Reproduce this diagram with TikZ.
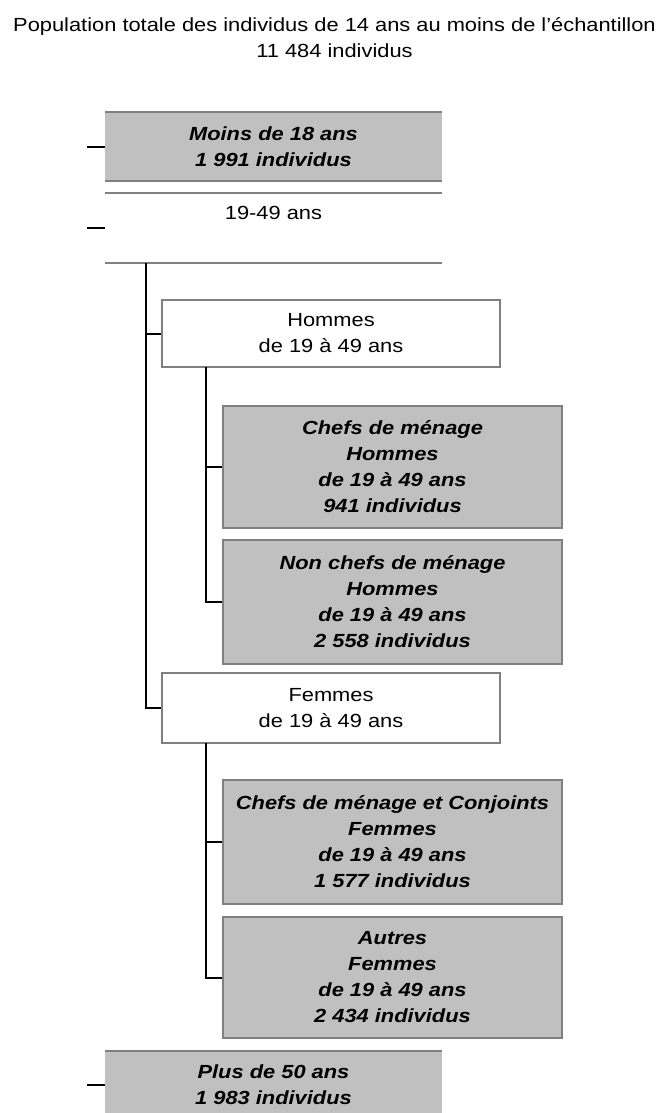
\documentclass[tikz,border=0pt]{standalone}
\usepackage{fontspec}
\setmainfont[FakeStretch=1.15]{Liberation Sans}
\definecolor{boxgray}{HTML}{C0C0C0}
\definecolor{edgegray}{HTML}{808080}
\tikzset{
  txt/.style={font=\fontsize{19}{26}\selectfont, align=center, inner sep=0pt},
  lvlbox/.style={txt, fill=boxgray},
  plainbox/.style={txt},
  subbox/.style={txt, draw=edgegray, line width=2pt},
  leafbox/.style={txt, draw=edgegray, line width=2pt, fill=boxgray},
  edge/.style={line width=2pt, edgegray},
  conn/.style={line width=2pt, black},
}
\begin{document}
\begin{tikzpicture}[x=1pt,y=-1pt]
\useasboundingbox[fill=white] (0,0) rectangle (669,1113);
% title
\node[txt, anchor=center] (title) at (334.5,38) {Population totale des individus de 14 ans au moins de l'échantillon\\11 484 individus};
% level 1 boxes
\node[lvlbox, minimum width=337pt, minimum height=69pt] (moins) at (273.5,146.5) {\bfseries\itshape Moins de 18 ans\\\bfseries\itshape 1 991 individus};
\draw[edge] (moins.north west) -- (moins.north east);
\draw[edge] (moins.south west) -- (moins.south east);
\node[plainbox, minimum width=337pt, minimum height=70pt] (mid) at (273.5,228) {};
\node[txt, anchor=center] (midlabel) at (273.5,213) {19-49 ans};
\draw[edge] (mid.north west) -- (mid.north east);
\draw[edge] (mid.south west) -- (mid.south east);
\node[lvlbox, minimum width=337pt, minimum height=70pt, anchor=north] (plus) at (273.5,1051) {};
\node[txt] (pluslabel) at (273.5,1085) {\bfseries\itshape Plus de 50 ans\\\bfseries\itshape 1 983 individus};
\draw[edge] (plus.north west) -- (plus.north east);
% stubs
\coordinate (s1) at (87,147);
\coordinate (s2) at (87,228);
\coordinate (s3) at (87,1085);
\draw[conn] (s1) -- (s1 -| moins.west);
\draw[conn] (s2) -- (s2 -| mid.west);
\draw[conn] (s3) -- (s3 -| plus.west);
% second level
\node[subbox, minimum width=338pt, minimum height=67pt] (hommes) at (331,333.5) {Hommes\\de 19 à 49 ans};
\node[subbox, minimum width=338pt, minimum height=70pt] (femmes) at (331,708) {Femmes\\de 19 à 49 ans};
\coordinate (t0) at (146,263);
\draw[conn] (t0) |- (hommes.west);
\draw[conn] (t0) |- (femmes.west);
% leaves
\node[leafbox, minimum width=339pt, minimum height=122pt] (c1) at (392.5,467) {\bfseries\itshape Chefs de ménage\\\bfseries\itshape Hommes\\\bfseries\itshape de 19 à 49 ans\\\bfseries\itshape 941 individus};
\node[leafbox, minimum width=339pt, minimum height=124pt] (c2) at (392.5,602) {\bfseries\itshape Non chefs de ménage\\\bfseries\itshape Hommes\\\bfseries\itshape de 19 à 49 ans\\\bfseries\itshape 2 558 individus};
\node[leafbox, minimum width=339pt, minimum height=124pt] (c3) at (392.5,842) {\bfseries\itshape Chefs de ménage et Conjoints\\\bfseries\itshape Femmes\\\bfseries\itshape de 19 à 49 ans\\\bfseries\itshape 1 577 individus};
\node[leafbox, minimum width=339pt, minimum height=121pt] (c4) at (392.5,977.5) {\bfseries\itshape Autres\\\bfseries\itshape Femmes\\\bfseries\itshape de 19 à 49 ans\\\bfseries\itshape 2 434 individus};
\coordinate (h0) at (206,367);
\coordinate (f0) at (206,743);
\draw[conn] (h0) |- (c1.west);
\draw[conn] (h0) |- (c2.west);
\draw[conn] (f0) |- (c3.west);
\draw[conn] (f0) |- (c4.west);
\end{tikzpicture}
\end{document}
